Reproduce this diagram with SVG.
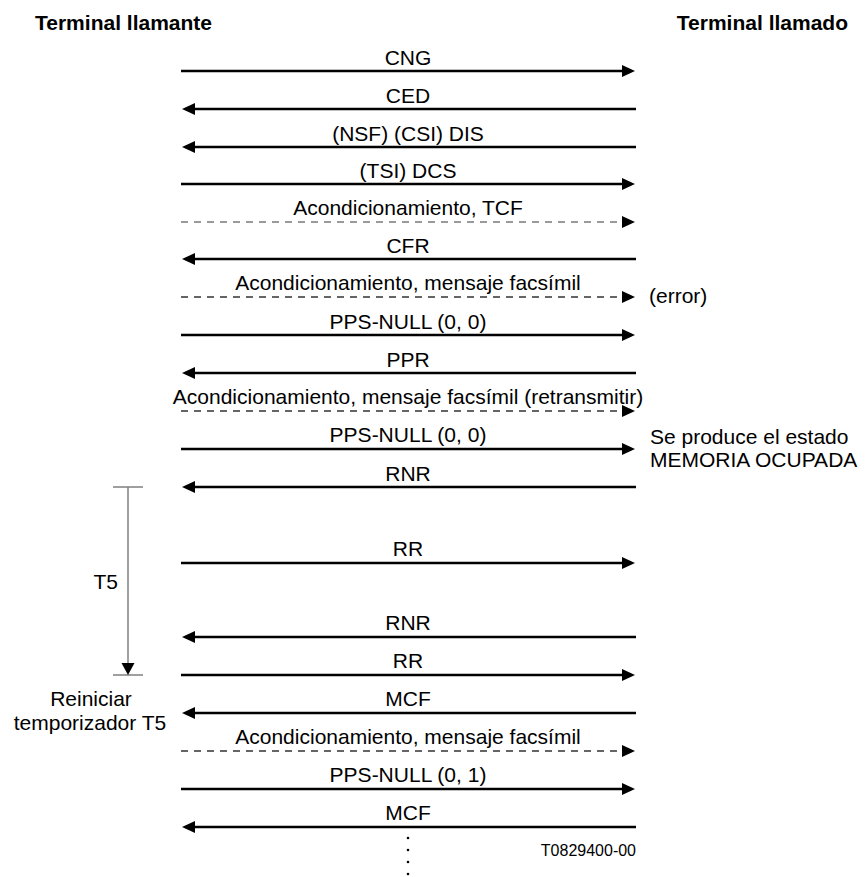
<svg xmlns="http://www.w3.org/2000/svg" width="866" height="877" viewBox="0 0 866 877">
<style>
text{font-family:"Liberation Sans",Arial,sans-serif;fill:#000}
.hdr{font-size:21px;font-weight:bold}
.lbl{font-size:21px;text-anchor:middle}
.note{font-size:21px}
.small{font-size:16px}
.sol{stroke:#000;stroke-width:2.5;fill:none}
.dsh{stroke:#333;stroke-width:1.5;stroke-dasharray:7 6;fill:none}
.dshg{stroke:#7a7a7a;stroke-width:1.5;stroke-dasharray:7 6;fill:none}
.tmr{stroke:#7f7f7f;stroke-width:1.5;fill:none}
</style>
<defs>
<marker id="ah" viewBox="0 0 13 12" refX="0" refY="6" markerWidth="13" markerHeight="12" markerUnits="userSpaceOnUse" orient="auto">
<path d="M0,0 L13,6 L0,12 Z" fill="#000"/>
</marker>
</defs>
<rect width="866" height="877" fill="#fff"/>
<g id="headers">
<text class="hdr" x="35" y="30">Terminal llamante</text>
<text class="hdr" x="848" y="30" text-anchor="end">Terminal llamado</text>
</g>
<g id="connectors">
<line class="sol" x1="181" y1="71" x2="622" y2="71" marker-end="url(#ah)"/>
<line class="sol" x1="636" y1="109" x2="195" y2="109" marker-end="url(#ah)"/>
<line class="sol" x1="636" y1="147" x2="195" y2="147" marker-end="url(#ah)"/>
<line class="sol" x1="181" y1="184" x2="622" y2="184" marker-end="url(#ah)"/>
<line class="dshg" x1="181" y1="222" x2="622" y2="222" marker-end="url(#ah)"/>
<line class="sol" x1="636" y1="259" x2="195" y2="259" marker-end="url(#ah)"/>
<line class="dsh" x1="181" y1="297" x2="622" y2="297" marker-end="url(#ah)"/>
<line class="sol" x1="181" y1="335" x2="622" y2="335" marker-end="url(#ah)"/>
<line class="sol" x1="636" y1="373" x2="195" y2="373" marker-end="url(#ah)"/>
<line class="dsh" x1="181" y1="411" x2="622" y2="411" marker-end="url(#ah)"/>
<line class="sol" x1="181" y1="449" x2="622" y2="449" marker-end="url(#ah)"/>
<line class="sol" x1="636" y1="487" x2="195" y2="487" marker-end="url(#ah)"/>
<line class="sol" x1="181" y1="563" x2="622" y2="563" marker-end="url(#ah)"/>
<line class="sol" x1="636" y1="637" x2="195" y2="637" marker-end="url(#ah)"/>
<line class="sol" x1="181" y1="675" x2="622" y2="675" marker-end="url(#ah)"/>
<line class="sol" x1="636" y1="713" x2="195" y2="713" marker-end="url(#ah)"/>
<line class="dsh" x1="181" y1="751" x2="622" y2="751" marker-end="url(#ah)"/>
<line class="sol" x1="181" y1="789" x2="622" y2="789" marker-end="url(#ah)"/>
<line class="sol" x1="636" y1="827" x2="195" y2="827" marker-end="url(#ah)"/>
</g>
<g id="labels">
<text class="lbl" x="408" y="65">CNG</text>
<text class="lbl" x="408" y="103">CED</text>
<text class="lbl" x="408" y="141">(NSF) (CSI) DIS</text>
<text class="lbl" x="408" y="178">(TSI) DCS</text>
<text class="lbl" x="408" y="215">Acondicionamiento, TCF</text>
<text class="lbl" x="408" y="253">CFR</text>
<text class="lbl" x="408" y="290">Acondicionamiento, mensaje facsímil</text>
<text class="lbl" x="408" y="329">PPS-NULL (0, 0)</text>
<text class="lbl" x="408" y="367">PPR</text>
<text class="lbl" x="408" y="404">Acondicionamiento, mensaje facsímil (retransmitir)</text>
<text class="lbl" x="408" y="442">PPS-NULL (0, 0)</text>
<text class="lbl" x="408" y="481">RNR</text>
<text class="lbl" x="408" y="556">RR</text>
<text class="lbl" x="408" y="630">RNR</text>
<text class="lbl" x="408" y="668">RR</text>
<text class="lbl" x="408" y="706">MCF</text>
<text class="lbl" x="408" y="744">Acondicionamiento, mensaje facsímil</text>
<text class="lbl" x="408" y="782">PPS-NULL (0, 1)</text>
<text class="lbl" x="408" y="820">MCF</text>
</g>
<g id="notes">
<text class="note" x="649" y="303">(error)</text>
<text class="note" x="650" y="444">Se produce el estado</text>
<text class="note" x="650" y="467">MEMORIA OCUPADA</text>
</g>
<g id="timer">
<line class="tmr" x1="113" y1="487" x2="143" y2="487"/>
<line class="tmr" x1="113" y1="675" x2="143" y2="675"/>
<line class="tmr" x1="128" y1="487" x2="128" y2="663"/>
<path d="M121.5,663 L134.5,663 L128,675 Z" fill="#000"/>
<text class="note" x="118" y="589" text-anchor="end">T5</text>
<text class="note" x="91" y="706" text-anchor="middle">Reiniciar</text>
<text class="note" x="90" y="730" text-anchor="middle">temporizador T5</text>
</g>
<g id="continuation">
<circle cx="408" cy="838" r="1.3" fill="#000"/>
<circle cx="408" cy="850" r="1.3" fill="#000"/>
<circle cx="408" cy="862" r="1.3" fill="#000"/>
<circle cx="408" cy="874" r="1.3" fill="#000"/>
</g>
<text class="small" x="636" y="856" text-anchor="end">T0829400-00</text>
</svg>
